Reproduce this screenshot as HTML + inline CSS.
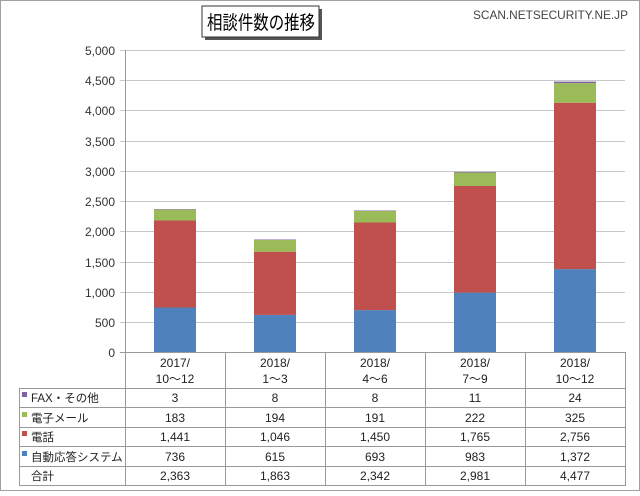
<!DOCTYPE html>
<html><head><meta charset="utf-8"><style>
body{margin:0;width:640px;height:491px;background:#fff;overflow:hidden;font-family:"Liberation Sans","Noto Sans CJK JP",sans-serif;}
</style></head><body>
<svg width="640" height="491" xmlns="http://www.w3.org/2000/svg" font-family="Liberation Sans, Noto Sans CJK JP, sans-serif">
<rect x="0.5" y="0.5" width="639" height="490" fill="#fff" stroke="#a0a0a0"/>
<rect x="205" y="9" width="117" height="31" fill="#555"/>
<rect x="202" y="6" width="117" height="31" fill="#fff" stroke="#333"/>
<text x="207" y="29" font-size="19" textLength="108" lengthAdjust="spacingAndGlyphs" fill="#000">相談件数の推移</text>
<text x="628" y="19" font-size="12" text-anchor="end" fill="#444" textLength="155" lengthAdjust="spacingAndGlyphs">SCAN.NETSECURITY.NE.JP</text>
<g stroke="#c8c8c8" stroke-width="1">
<line x1="120" y1="50.5" x2="625" y2="50.5"/><line x1="120" y1="80.5" x2="625" y2="80.5"/>
<line x1="120" y1="110.5" x2="625" y2="110.5"/><line x1="120" y1="141.5" x2="625" y2="141.5"/>
<line x1="120" y1="171.5" x2="625" y2="171.5"/><line x1="120" y1="201.5" x2="625" y2="201.5"/>
<line x1="120" y1="231.5" x2="625" y2="231.5"/><line x1="120" y1="262.5" x2="625" y2="262.5"/>
<line x1="120" y1="292.5" x2="625" y2="292.5"/><line x1="120" y1="322.5" x2="625" y2="322.5"/>
</g>
<line x1="120" y1="352.5" x2="625" y2="352.5" stroke="#999"/>
<line x1="125.5" y1="50" x2="125.5" y2="485" stroke="#999"/>
<g font-size="12" fill="#333" text-anchor="end">
<text x="115" y="55">5,000</text><text x="115" y="85">4,500</text><text x="115" y="115">4,000</text>
<text x="115" y="146">3,500</text><text x="115" y="176">3,000</text><text x="115" y="206">2,500</text>
<text x="115" y="236">2,000</text><text x="115" y="267">1,500</text><text x="115" y="297">1,000</text>
<text x="115" y="327">500</text><text x="115" y="357">0</text>
</g>
<g>
<rect x="154" y="307.5" width="42" height="44.5" fill="#4f81bd"/>
<rect x="154" y="220.5" width="42" height="87" fill="#c0504d"/>
<rect x="154" y="209.4" width="42" height="11.1" fill="#9bbb59"/>
<rect x="154" y="209.2" width="42" height="0.5" fill="#8064a2"/>

<rect x="254" y="314.9" width="42" height="37.1" fill="#4f81bd"/>
<rect x="254" y="251.7" width="42" height="63.2" fill="#c0504d"/>
<rect x="254" y="240" width="42" height="11.7" fill="#9bbb59"/>
<rect x="254" y="239.5" width="42" height="0.5" fill="#8064a2"/>

<rect x="354" y="310.1" width="42" height="41.9" fill="#4f81bd"/>
<rect x="354" y="222.5" width="42" height="87.6" fill="#c0504d"/>
<rect x="354" y="211" width="42" height="11.5" fill="#9bbb59"/>
<rect x="354" y="210.5" width="42" height="0.5" fill="#8064a2"/>

<rect x="454" y="292.6" width="42" height="59.4" fill="#4f81bd"/>
<rect x="454" y="186" width="42" height="106.6" fill="#c0504d"/>
<rect x="454" y="172.6" width="42" height="13.4" fill="#9bbb59"/>
<rect x="454" y="171.9" width="42" height="0.7" fill="#8064a2"/>

<rect x="554" y="269.1" width="42" height="82.9" fill="#4f81bd"/>
<rect x="554" y="102.7" width="42" height="166.4" fill="#c0504d"/>
<rect x="554" y="83.1" width="42" height="19.6" fill="#9bbb59"/>
<rect x="554" y="81.6" width="42" height="1.5" fill="#8064a2"/>
</g>
<g stroke="#999" stroke-width="1">
<line x1="225.5" y1="352" x2="225.5" y2="485"/><line x1="325.5" y1="352" x2="325.5" y2="485"/>
<line x1="425.5" y1="352" x2="425.5" y2="485"/><line x1="525.5" y1="352" x2="525.5" y2="485"/>
<line x1="625.5" y1="352" x2="625.5" y2="485"/>
<line x1="19.5" y1="388" x2="19.5" y2="485"/>
<line x1="19" y1="388.5" x2="626" y2="388.5"/><line x1="19" y1="407.5" x2="626" y2="407.5"/>
<line x1="19" y1="427.5" x2="626" y2="427.5"/><line x1="19" y1="446.5" x2="626" y2="446.5"/>
<line x1="19" y1="466.5" x2="626" y2="466.5"/><line x1="19" y1="485.5" x2="626" y2="485.5"/>
</g>
<g font-size="12" fill="#222" text-anchor="middle">
<text x="175" y="367">2017/</text><text x="175" y="383">10～12</text>
<text x="275" y="367">2018/</text><text x="275" y="383">1～3</text>
<text x="375" y="367">2018/</text><text x="375" y="383">4～6</text>
<text x="475" y="367">2018/</text><text x="475" y="383">7～9</text>
<text x="575" y="367">2018/</text><text x="575" y="383">10～12</text>
<text x="175" y="402">3</text><text x="275" y="402">8</text><text x="375" y="402">8</text><text x="475" y="402">11</text><text x="575" y="402">24</text>
<text x="175" y="422">183</text><text x="275" y="422">194</text><text x="375" y="422">191</text><text x="475" y="422">222</text><text x="575" y="422">325</text>
<text x="175" y="441">1,441</text><text x="275" y="441">1,046</text><text x="375" y="441">1,450</text><text x="475" y="441">1,765</text><text x="575" y="441">2,756</text>
<text x="175" y="461">736</text><text x="275" y="461">615</text><text x="375" y="461">693</text><text x="475" y="461">983</text><text x="575" y="461">1,372</text>
<text x="175" y="480">2,363</text><text x="275" y="480">1,863</text><text x="375" y="480">2,342</text><text x="475" y="480">2,981</text><text x="575" y="480">4,477</text>
</g>
<rect x="22" y="392" width="5" height="5" fill="#8064a2"/>
<rect x="22" y="412" width="5" height="5" fill="#9bbb59"/>
<rect x="22" y="431" width="5" height="5" fill="#c0504d"/>
<rect x="22" y="451" width="5" height="5" fill="#4f81bd"/>
<g font-size="11.5" fill="#222">
<text x="31" y="402">FAX・その他</text>
<text x="31" y="422">電子メール</text>
<text x="31" y="441">電話</text>
<text x="31" y="461">自動応答システム</text>
<text x="31" y="480">合計</text>
</g>
</svg>
</body></html>
